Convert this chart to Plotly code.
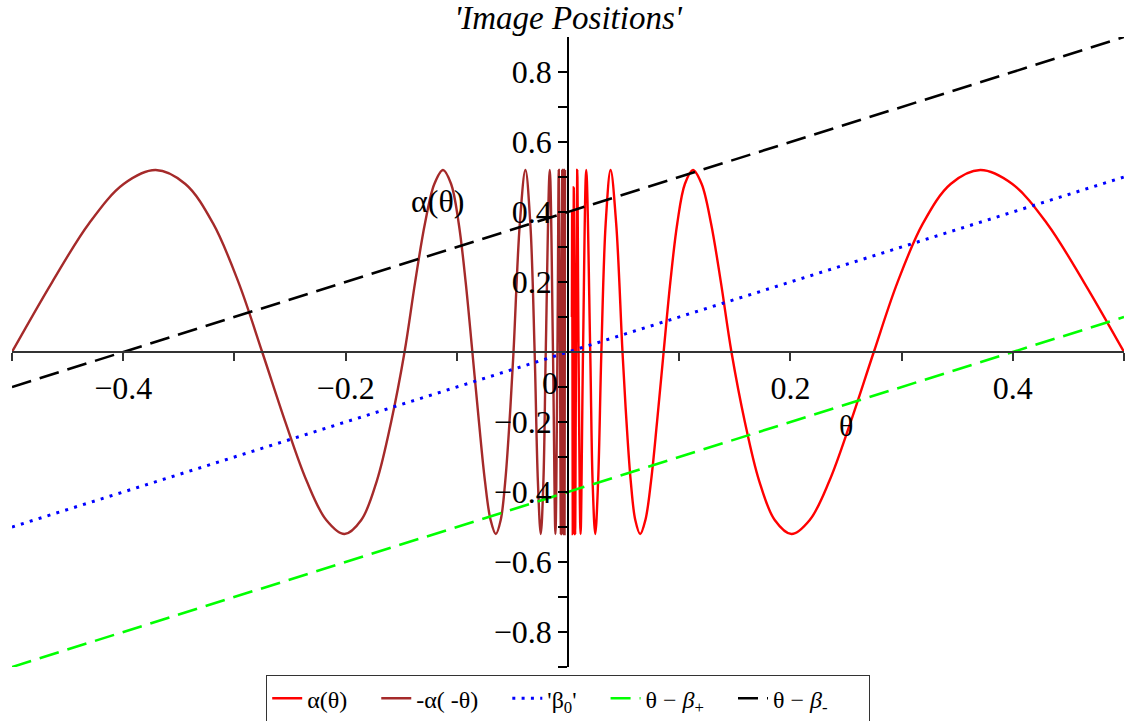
import plotly.graph_objects as go

# ---- data ----
red_theta = [0.5, 0.4640, 0.4306, 0.3996, 0.3708, 0.3441, 0.3193, 0.2963, 0.275,
             0.2543, 0.2351, 0.2174, 0.2010, 0.1859, 0.1719, 0.1590, 0.147,
             0.1375, 0.1286, 0.1202, 0.1124, 0.1051, 0.0983, 0.0920, 0.086,
             0.0801, 0.0747, 0.0696, 0.0649, 0.0605, 0.0564, 0.0526, 0.049,
             0.0433, 0.0383, 0.0339, 0.030, 0.0271, 0.0245, 0.0221, 0.020,
             0.0164, 0.0135, 0.0113, 0.0095, 0.0083, 0.0072, 0.0064, 0.0057,
             0.0052, 0.0047, 0.0043, 0.0040, 0.0037, 0.0035]
red_alpha = [0.0, 0.199, 0.368, 0.480, 0.52, 0.480, 0.368, 0.199, 0.0,
             -0.199, -0.368, -0.480, -0.52, -0.480, -0.368, -0.199, 0.0,
             0.199, 0.368, 0.480, 0.52, 0.480, 0.368, 0.199, 0.0,
             -0.199, -0.368, -0.480, -0.52, -0.480, -0.368, -0.199, 0.0,
             0.368, 0.52, 0.368, 0.0, -0.368, -0.52, -0.368, 0.0,
             0.52, 0.0, -0.52, 0.0, 0.52, 0.0, -0.52, 0.0,
             0.47, 0.0, -0.52, 0.0, 0.40, 0.10]

brown_theta = [-0.5, -0.4640, -0.4306, -0.3996, -0.3708, -0.3441, -0.3193, -0.2963, -0.275,
               -0.2543, -0.2351, -0.2174, -0.2010, -0.1859, -0.1719, -0.1590, -0.147,
               -0.1375, -0.1286, -0.1202, -0.1124, -0.1051, -0.0983, -0.0920, -0.086,
               -0.0801, -0.0747, -0.0696, -0.0649, -0.0605, -0.0564, -0.0526, -0.049,
               -0.0433, -0.0383, -0.0339, -0.030, -0.0271, -0.0245, -0.0221, -0.020,
               -0.0164, -0.0135, -0.0113, -0.0095, -0.0083, -0.0072, -0.0064, -0.0057,
               -0.0052, -0.0047, -0.0043, -0.0040, -0.0037, -0.0034, -0.0031, -0.0029, -0.0027]
brown_alpha = [0.0, 0.199, 0.368, 0.480, 0.52, 0.480, 0.368, 0.199, 0.0,
               -0.199, -0.368, -0.480, -0.52, -0.480, -0.368, -0.199, 0.0,
               0.199, 0.368, 0.480, 0.52, 0.480, 0.368, 0.199, 0.0,
               -0.199, -0.368, -0.480, -0.52, -0.480, -0.368, -0.199, 0.0,
               0.368, 0.52, 0.368, 0.0, -0.368, -0.52, -0.368, 0.0,
               0.52, 0.0, -0.52, 0.0, 0.52, 0.0, -0.52, 0.0,
               0.52, 0.0, -0.52, 0.0, 0.52, 0.0, -0.52, 0.0, 0.52]

line_theta = [-0.5, 0.5]
beta0_vals = [-0.5, 0.5]
beta_plus_vals = [-0.9, 0.1]
beta_minus_vals = [-0.1, 0.9]

x_tick_vals = [-0.5, -0.4, -0.3, -0.2, -0.1, 0.1, 0.2, 0.3, 0.4, 0.5]
x_tick_text = ["", "\u22120.4", "", "\u22120.2", "", "", "0.2", "", "0.4", ""]
y_tick_vals = [-0.9, -0.8, -0.7, -0.6, -0.5, -0.4, -0.3, -0.2, -0.1,
               0.1, 0.2, 0.3, 0.4, 0.5, 0.6, 0.7, 0.8]
y_tick_text = ["", "\u22120.8", "", "\u22120.6", "", "\u22120.4", "", "\u22120.2", "",
               "", "0.2", "", "0.4", "", "0.6", "", "0.8"]

FONT = "Liberation Serif"
PAD = "\u00a0" * 4

fig = go.Figure()
fig.add_trace(go.Scatter(x=red_theta, y=red_alpha, mode="lines", name="\u03b1(\u03b8)" + PAD,
                         line=dict(color="#FF0000", width=2.4, shape="spline", smoothing=1.0)))
fig.add_trace(go.Scatter(x=brown_theta, y=brown_alpha, mode="lines", name="-\u03b1( -\u03b8)" + PAD,
                         line=dict(color="#A52A2A", width=2.4, shape="spline", smoothing=1.0)))
fig.add_trace(go.Scatter(x=line_theta, y=beta0_vals, mode="lines", name="'\u03b2<sub>0</sub>'" + PAD,
                         line=dict(color="#0000FF", width=3, dash="3px,6.3px")))
fig.add_trace(go.Scatter(x=line_theta, y=beta_plus_vals, mode="lines",
                         name="\u03b8 \u2212 <i>\u03b2</i><sub>+</sub>" + PAD,
                         line=dict(color="#00FF00", width=2.6, dash="20px,9px")))
fig.add_trace(go.Scatter(x=line_theta, y=beta_minus_vals, mode="lines",
                         name="\u03b8 \u2212 <i>\u03b2</i><sub>-</sub>" + "\u00a0" * 6,
                         line=dict(color="#000000", width=2.6, dash="20px,9px")))

fig.update_layout(
    width=1125, height=721,
    margin=dict(l=12, r=1, t=37, b=54, autoexpand=False),
    paper_bgcolor="white", plot_bgcolor="white",
    font=dict(family=FONT, color="black"),
    title=dict(text="<i>'Image Positions'</i>", x=0.5, xref="paper", xanchor="center",
               y=1 - 17 / 721, yref="container", yanchor="middle", automargin=False,
               font=dict(family=FONT, size=33, color="black")),
    xaxis=dict(range=[-0.5, 0.5], anchor="free", position=0.5, showline=True,
               linecolor="#333333", linewidth=1.5, ticks="outside", ticklen=8,
               tickcolor="#333333", tickwidth=1.5, tickvals=x_tick_vals, ticktext=x_tick_text,
               tickfont=dict(family=FONT, size=32, color="black"), automargin=False,
               showgrid=False, zeroline=False),
    yaxis=dict(range=[-0.9, 0.9], anchor="free", position=0.5, showline=True,
               linecolor="#000000", linewidth=1.5, ticks="outside", ticklen=9,
               tickcolor="#000000", tickwidth=1.5, tickvals=y_tick_vals, ticktext=y_tick_text,
               tickfont=dict(family=FONT, size=32, color="black"), automargin=False,
               ticklabelstandoff=0, showgrid=False, zeroline=False),
    legend=dict(orientation="h", x=0.5, xanchor="center", y=(721 - 675) / 721,
                yref="container", yanchor="top",
                bordercolor="#333333", borderwidth=1.2, bgcolor="white",
                font=dict(family=FONT, size=24, color="black"), itemwidth=30),
    showlegend=True,
)

fig.add_annotation(x=-0.1178, y=0.431, xref="x", yref="y", text="\u03b1(\u03b8)",
                   showarrow=False, font=dict(family=FONT, size=32, color="black"))
fig.add_annotation(x=0.250, y=-0.211, xref="x", yref="y", text="\u03b8",
                   showarrow=False, font=dict(family=FONT, size=30, color="black"))
fig.add_annotation(x=-0.0162, y=-0.089, xref="x", yref="y", text="0",
                   showarrow=False, font=dict(family=FONT, size=32, color="black"))

fig.write_html(
    "out.html",
    config={"displayModeBar": False},
    post_script="document.body.style.margin='0px'; document.body.style.overflow='hidden';",
)
